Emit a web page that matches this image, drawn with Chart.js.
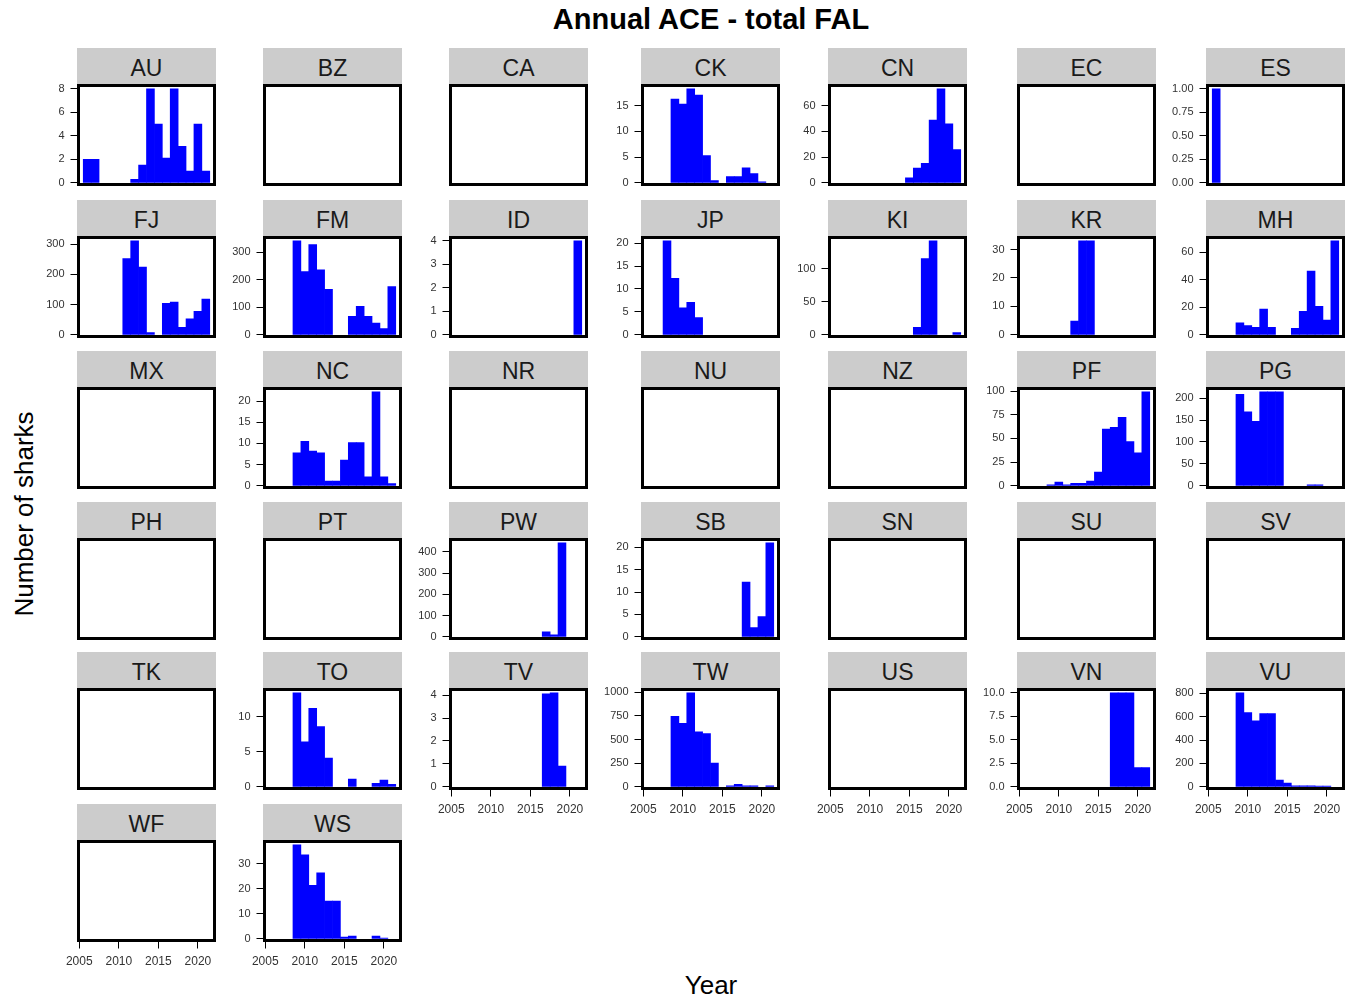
<!DOCTYPE html>
<html>
<head>
<meta charset="utf-8">
<script src="https://cdn.jsdelivr.net/npm/chart.js@4.4.1/dist/chart.umd.min.js"></script>
<style>
  body { margin:0; background:#fff; width:1345px; height:1001px; position:relative; overflow:hidden;
         font-family:"Liberation Sans", Arial, sans-serif; }
  .strip { position:absolute; background:#cccccc; color:#1a1a1a; font-size:23px; text-align:center;
           height:36px; line-height:40px; }
  .panel { position:absolute; }
  .lbl { position:absolute; color:#000; white-space:nowrap; }
</style>
</head>
<body>
<div class="lbl" id="title" style="left:0;width:1422px;top:3px;text-align:center;font-size:29px;font-weight:bold;">Annual ACE - total FAL</div>
<div class="lbl" style="left:0;width:1422px;top:970px;text-align:center;font-size:26px;">Year</div>
<div class="lbl" style="left:24px;top:514px;font-size:26px;transform:translate(-50%,-50%) rotate(-90deg);">Number of sharks</div>
<script>
// years on the x axis, one bar per year
const years = [2005,2006,2007,2008,2009,2010,2011,2012,2013,2014,2015,2016,2017,2018,2019,2020,2021];
const xTicks = [2005, 2010, 2015, 2020];

// facet order (7 per row)
const countries = ['AU','BZ','CA','CK','CN','EC','ES',
                   'FJ','FM','ID','JP','KI','KR','MH',
                   'MX','NC','NR','NU','NZ','PF','PG',
                   'PH','PT','PW','SB','SN','SU','SV',
                   'TK','TO','TV','TW','US','VN','VU',
                   'WF','WS'];

// number of sharks per year (2005..2021)
const AU = [0,2,2,0,0,0,0,0.3,1.5,8,5,2.1,8,3.1,1,5,1];
const CK = [0,0,0,0,16.3,15.3,18.3,17.1,5.3,0.45,0,1.2,1.2,2.9,1.8,0.2,0];
const CN = [0,0,0,0,0,0,0,0,0,0,3.9,11.5,15.1,48.8,73,45.7,25.8];
const ES = [0,1,0,0,0,0,0,0,0,0,0,0,0,0,0,0,0];
const FJ = [0,0,0,0,0,0,252,311,224,7.7,0,104,108,25,53,78,118];
const FM = [0,0,0,0,342,230,328,236,165,0,0,67,104,67,43,23,175];
const ID = [0,0,0,0,0,0,0,0,0,0,0,0,0,0,0,0,4];
const JP = [0,0,0,20.5,12.3,5.9,7.1,3.75,0,0,0,0,0,0,0,0,0];
const KI = [0,0,0,0,0,0,0,0,0,0,0,11.5,115.6,142.7,0,0,3.5];
const KR = [0,0,0,0,0,0,0,4.8,33.1,33.1,0,0,0,0,0,0,0];
const MH = [0,0,0,0,8.7,6.7,5.5,18.8,5.5,0,0,4.8,17.1,46.3,20.7,10.8,68.4];
const NC = [0,0,0,0,7.8,10.5,8.2,7.8,1.1,1.1,6.1,10.2,10.2,2.1,22.2,2.1,0.5];
const PF = [0,0,0,0,1.1,3.9,1.1,2.5,2.5,5,14.5,60,61.7,72.3,46.8,34.8,99.3];
const PG = [0,0,0,0,209,169,147,214.6,214.6,214.6,0,0,0,2.3,2.3,0,0];
const PW = [0,0,0,0,0,0,0,0,0,0,0,0,24,9,443,0,0];
const SB = [0,0,0,0,0,0,0,0,0,0,0,0,0,12.2,2.06,4.5,21];
const TO = [0,0,0,0,13.4,6.4,11.2,8.6,4.1,0,0,1.1,0,0,0.5,0.95,0.35];
const TV = [0,0,0,0,0,0,0,0,0,0,0,0,4.05,4.1,0.9,0,0];
const TW = [0,0,0,0,745,671,995,582,564,250,0,10,25,10,10,0,10];
const VN = [0,0,0,0,0,0,0,0,0,0,0,0,10,10,10,2.05,2.05];
const VU = [0,0,0,0,805,636,564,627,627,57,32,8,8,8,6,6,0];
const WS = [0,0,0,0,37.6,33.6,21.4,26.4,15.1,15.1,0.7,1.1,0,0,1.1,0.3,0];

const series = {AU,CK,CN,ES,FJ,FM,ID,JP,KI,KR,MH,NC,PF,PG,PW,SB,TO,TV,TW,VN,VU,WS};
// y tick spacing for each panel with data
const yStepCountries = ['AU','CK','CN','ES','FJ','FM','ID','JP','KI','KR','MH','NC','PF','PG','PW','SB','TO','TV','TW','VN','VU','WS'];
const yStepValues    = [2,   5,   20,  0.25,100, 100, 1,   5,   50,  10,  20,  5,   25,  50,  100, 5,   5,   1,   250, 2.5, 200, 10];

// layout of the grid
const colLeft = [77, 263, 449, 641, 828, 1017, 1206];
const rowTop = [84, 236, 387, 538, 688, 840];
const BOX_W = 139, BOX_H = 102, STRIP_H = 36;
const Y_W = 45.5, TOP_OFF = 16, X_H = 30;
const PAD_T = TOP_OFF + 1.5;

const boxBorder = {
  id: 'boxBorder',
  afterDatasetsDraw(chart) {
    const a = chart.chartArea, c = chart.ctx;
    c.save();
    c.strokeStyle = '#000'; c.lineWidth = 3;
    c.strokeRect(a.left, a.top, a.right - a.left, a.bottom - a.top);
    c.restore();
  }
};

countries.forEach((code, i) => {
  const col = i % 7, row = Math.floor(i / 7);
  const bottom = i + 7 >= countries.length;
  const left = colLeft[col], top = rowTop[row];

  const strip = document.createElement('div');
  strip.className = 'strip';
  strip.style.left = left + 'px'; strip.style.top = (top - STRIP_H) + 'px';
  strip.style.width = BOX_W + 'px';
  strip.textContent = code;
  document.body.appendChild(strip);

  const W = 186, H = Math.ceil(PAD_T + (BOX_H - 3) + X_H + 1);
  const wrap = document.createElement('div');
  wrap.className = 'panel';
  wrap.style.left = (left - 44) + 'px'; wrap.style.top = (top - TOP_OFF) + 'px';
  const cv = document.createElement('canvas');
  cv.width = W; cv.height = H;
  cv.style.width = W + 'px'; cv.style.height = H + 'px';
  wrap.appendChild(cv);
  document.body.appendChild(wrap);

  const vals = series[code];
  const k = yStepCountries.indexOf(code);
  const step = k >= 0 ? yStepValues[k] : 1;
  const ymax = vals ? Math.max(...vals) : 1;
  const yTicks = [];
  if (vals) for (let v = 0; v <= ymax * 1.035 + 1e-9; v += step) yTicks.push(+v.toFixed(4));
  const dec = step < 1 ? 2 : (step % 1 ? 1 : 0);

  new Chart(cv, {
    type: 'bar',
    data: {
      datasets: [{
        // empty years get no bar at all
        data: vals ? years.map((y, j) => ({x: y, y: vals[j] || null})) : [],
        backgroundColor: '#0000ff',
        borderWidth: 0,
        barPercentage: 1,
        categoryPercentage: 1
      }]
    },
    options: {
      responsive: false,
      animation: false,
      layout: { padding: { left: 0, top: PAD_T, right: 4.5, bottom: H - PAD_T - (BOX_H - 3) - X_H } },
      plugins: { legend: { display: false }, tooltip: { enabled: false } },
      scales: {
        x: {
          type: 'linear', offset: false, min: 2004.9, max: 2022.1,
          afterBuildTicks: s => { s.ticks = xTicks.map(v => ({value: v})); },
          afterFit: s => { s.height = X_H; },
          border: { display: false },
          grid: { display: bottom, offset: false, drawOnChartArea: false, drawTicks: true,
                  tickLength: 8, tickColor: '#000', tickWidth: 1 },
          ticks: { display: bottom, maxRotation: 0, autoSkip: false, padding: 6,
                   color: '#333', font: { family: 'Liberation Sans', size: 12 },
                   callback: v => String(v) }
        },
        y: {
          min: vals ? -ymax * 0.018 : 0, max: vals ? ymax * 1.035 : 1,
          afterBuildTicks: s => { s.ticks = yTicks.map(v => ({value: v})); },
          afterFit: s => { s.width = Y_W; },
          border: { display: false },
          grid: { display: !!vals, drawOnChartArea: false, drawTicks: true,
                  tickLength: 8, tickColor: '#000', tickWidth: 1 },
          ticks: { display: !!vals, padding: 6, color: '#333',
                   font: { family: 'Liberation Sans', size: 11 },
                   callback: v => Number(v).toFixed(dec) }
        }
      }
    },
    plugins: [boxBorder]
  });
});
</script>
</body>
</html>
